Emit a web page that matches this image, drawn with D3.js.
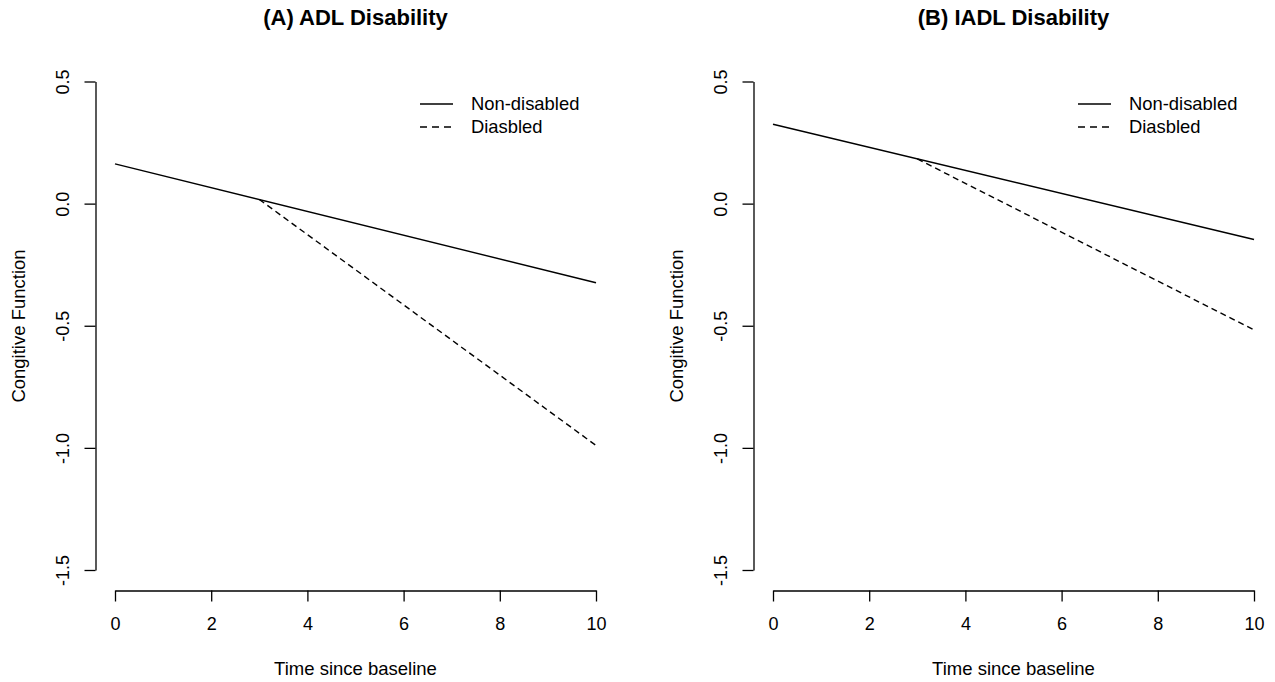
<!DOCTYPE html>
<html><head><meta charset="utf-8">
<script src="https://cdn.jsdelivr.net/npm/d3@7"></script>
<style>body{margin:0;background:#fff}svg{display:block}text{font-family:"Liberation Sans",Arial,sans-serif;fill:#000}</style>
</head><body>
<script>
const titles = ["(A) ADL Disability", "(B) IADL Disability"];
const seriesNames = ["Non-disabled", "Diasbled"];
const xTicks = [0, 2, 4, 6, 8, 10];
const yTicks = [0.5, 0.0, -0.5, -1.0, -1.5];
// [time, value] pairs per panel
const adlNonDisabled = [[0, 0.163], [10, -0.324]];
const adlDisabled = [[3, 0.017], [10, -0.99]];
const iadlNonDisabled = [[0, 0.325], [10, -0.147]];
const iadlDisabled = [[3, 0.183], [10, -0.517]];

const W = 1275, H = 682;
const svg = d3.select("body").append("svg").attr("width", W).attr("height", H);

const panels = [
  {title: titles[0], ox: 0, series: [adlNonDisabled, adlDisabled]},
  {title: titles[1], ox: 658, series: [iadlNonDisabled, iadlDisabled]}
];

const fmt = d => d.toFixed(1);

panels.forEach(p => {
  const g = svg.append("g").attr("transform", `translate(${p.ox},0)`);
  const x = d3.scaleLinear().domain([0, 10]).range([115, 596]);
  const y = d3.scaleLinear().domain([-1.5, 0.5]).range([570, 81.5]);

  // y axis
  const ya = g.append("g").attr("transform", "translate(95.5,0)")
    .call(d3.axisLeft(y).tickValues(yTicks).tickSize(11).tickSizeOuter(0).tickFormat(fmt));
  ya.select(".domain").attr("stroke", "#000").attr("stroke-width", 1.3);
  ya.selectAll(".tick line").attr("stroke", "#000").attr("stroke-width", 1.3);
  ya.selectAll(".tick text").attr("font-size", 18).attr("font-family", "Liberation Sans, Arial, sans-serif")
    .attr("text-anchor", "middle").attr("x", 0).attr("dy", 0)
    .attr("transform", "translate(-33,0) rotate(-90)").attr("dominant-baseline", "central");

  // x axis
  const xa = g.append("g").attr("transform", "translate(0,590.5)")
    .call(d3.axisBottom(x).tickValues(xTicks).tickSize(11).tickSizeOuter(0));
  xa.select(".domain").attr("stroke", "#000").attr("stroke-width", 1.3);
  xa.selectAll(".tick line").attr("stroke", "#000").attr("stroke-width", 1.3);
  xa.selectAll(".tick text").attr("font-size", 18).attr("font-family", "Liberation Sans, Arial, sans-serif")
    .attr("y", 39.5).attr("dy", 0);

  g.append("text").attr("x", 355.5).attr("y", 25).attr("text-anchor", "middle")
    .attr("font-size", 22).attr("font-weight", "bold").text(p.title);
  g.append("text").attr("x", 355.5).attr("y", 675).attr("text-anchor", "middle")
    .attr("font-size", 18.5).text("Time since baseline");
  g.append("text").attr("transform", "translate(25,326) rotate(-90)").attr("text-anchor", "middle")
    .attr("font-size", 18.5).text("Congitive Function");

  const line = d3.line().x(d => x(d[0])).y(d => y(d[1]));
  p.series.forEach((s, i) => {
    g.append("path").datum(s).attr("d", line).attr("fill", "none").attr("stroke", "#000")
      .attr("stroke-width", 1.4).attr("stroke-dasharray", i === 1 ? "6,4" : null);
  });

  // legend
  seriesNames.forEach((n, i) => {
    const ly = 104 + i * 23;
    g.append("line").attr("x1", 420).attr("x2", 453).attr("y1", ly).attr("y2", ly)
      .attr("stroke", "#000").attr("stroke-width", 1.4).attr("stroke-dasharray", i === 1 ? "7,5" : null);
    g.append("text").attr("x", 471).attr("y", ly).attr("dy", "0.35em").attr("font-size", 18.4).text(n);
  });
});
</script>
</body></html>
